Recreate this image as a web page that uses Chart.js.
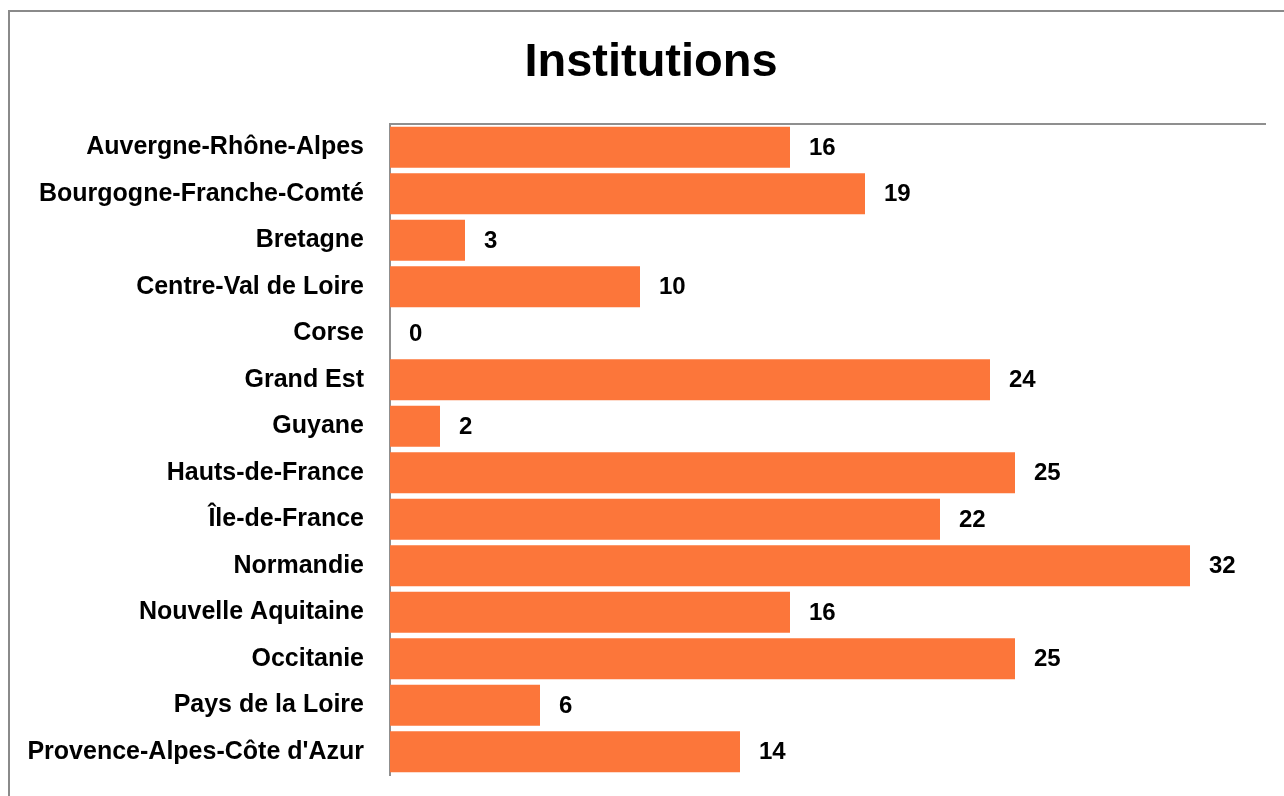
<!DOCTYPE html>
<html>
<head>
<meta charset="utf-8">
<script src="https://cdn.jsdelivr.net/npm/chart.js@4/dist/chart.umd.min.js"></script>
<style>
  html, body { margin: 0; padding: 0; background: #fff; overflow: hidden; }
  #frame {
    position: absolute; left: 8px; top: 10px;
    width: 1290px; height: 800px;
    border-left: 2px solid #8a8a8a; border-top: 2px solid #8a8a8a;
  }
  #chart { position: absolute; left: 10px; top: 12px; }
</style>
</head>
<body>
<div id="frame"></div>
<canvas id="chart" width="1283" height="784"></canvas>
<script>
// regions and their number of institutions
const regions = [
  'Auvergne-Rhône-Alpes', 'Bourgogne-Franche-Comté', 'Bretagne', 'Centre-Val de Loire',
  'Corse', 'Grand Est', 'Guyane', 'Hauts-de-France', 'Île-de-France', 'Normandie',
  'Nouvelle Aquitaine', 'Occitanie', 'Pays de la Loire', "Provence-Alpes-Côte d'Azur"
];
const institutions = [16, 19, 3, 10, 0, 24, 2, 25, 22, 32, 16, 25, 6, 14];
const xMax = 35;

const labelFont = '"Liberation Sans", Arial, sans-serif';

// draws the value next to each bar
const valueLabels = {
  id: 'valueLabels',
  afterDatasetsDraw(chart) {
    const ctx = chart.ctx;
    const meta = chart.getDatasetMeta(0);
    ctx.save();
    ctx.fillStyle = '#000';
    ctx.font = 'bold 24px ' + labelFont;
    ctx.textAlign = 'left';
    ctx.textBaseline = 'middle';
    meta.data.forEach((bar, i) => {
      ctx.fillText(String(institutions[i]), bar.x + 19, bar.y + 1);
    });
    ctx.restore();
  }
};

new Chart(document.getElementById('chart'), {
  type: 'bar',
  data: {
    labels: regions,
    datasets: [{
      label: 'Institutions',
      data: institutions,
      backgroundColor: '#fc763a',
      borderWidth: 0,
      barPercentage: 0.88,
      categoryPercentage: 1
    }]
  },
  options: {
    indexAxis: 'y',
    responsive: false,
    animation: false,
    layout: { padding: { left: 27, right: 28, top: 0, bottom: 21 } },
    plugins: {
      legend: { display: false },
      tooltip: { enabled: false },
      title: {
        display: true,
        text: 'Institutions',
        color: '#000',
        font: { family: labelFont, size: 47, weight: 'bold', lineHeight: 1.2 },
        padding: { top: 23, bottom: 14.6 }
      }
    },
    scales: {
      x: {
        position: 'top',
        min: 0,
        max: xMax,
        grid: { display: false, drawTicks: false },
        ticks: { display: false },
        border: { display: true, color: '#8f8f8f', width: 2 },
        afterFit: s => { s.height = 18; }
      },
      y: {
        grid: { display: false, drawTicks: false },
        border: { display: true, color: '#8f8f8f', width: 2 },
        ticks: {
          color: '#000',
          padding: 26,
          font: { family: labelFont, size: 25, weight: 'bold' }
        },
        afterFit: s => {
          s.width = 353;
          s.paddingTop = 0;
          s.paddingBottom = 0;
          // let the longest label run past the scale box on the left
          s._computeLabelArea = () => undefined;
        }
      }
    }
  },
  plugins: [valueLabels]
});
</script>
</body>
</html>
